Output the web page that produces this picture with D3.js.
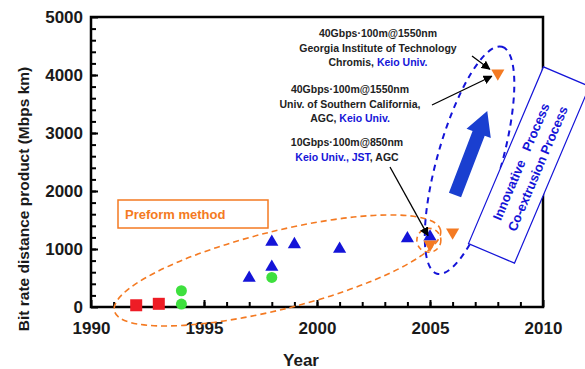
<!DOCTYPE html>
<html>
<head>
<meta charset="utf-8">
<script src="https://cdn.jsdelivr.net/npm/d3@7"></script>
<style>
  body{margin:0;background:#fff;}
  svg{display:block;font-family:"Liberation Sans",Arial,sans-serif;}
</style>
</head>
<body>
<div class="canvas"></div>
<script>
// data
const squareYears=[1992,1993];
const squareValues=[30,55];
const circleYears=[1994,1994,1998];
const circleValues=[50,280,510];
const triYears=[1997,1998,1998,1999,2001,2004,2005];
const triValues=[500,690,1120,1080,1000,1180,1210];
const invYears=[2005,2006,2008];
const invValues=[1080,1290,4030];
const xTicks=[1990,1995,2000,2005,2010];
const yTicks=[0,1000,2000,3000,4000,5000];

const W=585,H=369;
const svg=d3.select('.canvas').append('svg')
  .attr('width',W).attr('height',H);

const x=d3.scaleLinear().domain([1990,2010]).range([91,543]);
const y=d3.scaleLinear().domain([0,5000]).range([307,17]);

const red='#ee1c25',green='#3ee03e',blue='#1414d8',orange='#f47a22';

// frame
svg.append('rect')
  .attr('x',x(1990)).attr('y',y(5000))
  .attr('width',x(2010)-x(1990)).attr('height',y(0)-y(5000))
  .attr('fill','none').attr('stroke','#000').attr('stroke-width',2.5);

// axes (ticks pointing inward)
const fmt=d3.format('d');
const xMinor=svg.append('g').attr('transform',`translate(0,${y(0)})`)
  .call(d3.axisBottom(x).tickValues(d3.range(1991,2010)).tickSize(-5).tickFormat(''));
const xMajor=svg.append('g').attr('transform',`translate(0,${y(0)})`)
  .call(d3.axisBottom(x).tickValues(xTicks).tickSize(-7).tickPadding(15).tickFormat(fmt));
const yMinor=svg.append('g').attr('transform',`translate(${x(1990)},0)`)
  .call(d3.axisLeft(y).tickValues(d3.range(200,5000,200)).tickSize(-5).tickFormat(''));
const yMajor=svg.append('g').attr('transform',`translate(${x(1990)},0)`)
  .call(d3.axisLeft(y).tickValues(yTicks).tickSize(-7).tickPadding(8).tickFormat(fmt));
[xMinor,xMajor,yMinor,yMajor].forEach(g=>{
  g.select('.domain').remove();
  g.selectAll('line').attr('stroke','#000').attr('stroke-width',2);
  g.selectAll('text').attr('font-size',17).attr('font-weight','bold')
    .attr('font-family','"Liberation Sans",Arial,sans-serif').attr('fill','#1a1a1a');
});

// axis titles
svg.append('text').attr('x',301).attr('y',366).attr('text-anchor','middle')
  .attr('font-size',17).attr('font-weight','bold').attr('fill','#1a1a1a').text('Year');
svg.append('text').attr('transform','translate(29,199) rotate(-90)')
  .attr('text-anchor','middle').attr('font-size',15.5).attr('font-weight','bold').attr('fill','#1a1a1a')
  .text('Bit rate distance product (Mbps km)');

// dashed ellipses
svg.append('ellipse')
  .attr('transform',`translate(${x(1998.25)},${y(630)}) rotate(-14)`)
  .attr('rx',168).attr('ry',39)
  .attr('fill','none').attr('stroke',orange).attr('stroke-width',1.6).attr('stroke-dasharray','6,4');
svg.append('circle')
  .attr('cx',x(2004.95)).attr('cy',y(1150)).attr('r',12)
  .attr('fill','none').attr('stroke',orange).attr('stroke-width',1.6).attr('stroke-dasharray','5,4');
svg.append('ellipse')
  .attr('transform',`translate(${x(2006.75)},${y(2530)}) rotate(-74)`)
  .attr('rx',118).attr('ry',32)
  .attr('fill','none').attr('stroke',blue).attr('stroke-width',2).attr('stroke-dasharray','6,5');

// preform method box
svg.append('rect').attr('x',118).attr('y',200).attr('width',150).attr('height',28)
  .attr('fill','#fff').attr('stroke',orange).attr('stroke-width',1.5);
svg.append('text').attr('x',125).attr('y',219).attr('font-size',13).attr('font-weight','bold')
  .attr('fill',orange).text('Preform method');

// markers
const sq=d3.zip(squareYears,squareValues);
svg.selectAll('.sq').data(sq).enter().append('rect')
  .attr('x',d=>x(d[0])-6).attr('y',d=>y(d[1])-6).attr('width',12).attr('height',12).attr('fill',red);
const ci=d3.zip(circleYears,circleValues);
svg.selectAll('.ci').data(ci).enter().append('circle')
  .attr('cx',d=>x(d[0])).attr('cy',d=>y(d[1])).attr('r',5.5).attr('fill',green);
const triUp=d3.symbol().type(d3.symbolTriangle).size(75);
svg.selectAll('.tr').data(d3.zip(triYears,triValues)).enter().append('path')
  .attr('d',triUp).attr('fill',blue)
  .attr('transform',d=>`translate(${x(d[0])},${y(d[1])})`);
svg.selectAll('.iv').data(d3.zip(invYears,invValues)).enter().append('path')
  .attr('d',triUp).attr('fill',orange)
  .attr('transform',d=>`translate(${x(d[0])},${y(d[1])}) rotate(180)`);

// big blue arrow
const ax=455,ay=195,len=90;
svg.append('path')
  .attr('transform',`translate(${ax},${ay}) rotate(21)`)
  .attr('d',`M-6.5,0 L-6.5,${-len+24} L-13,${-len+24} L0,${-len} L13,${-len+24} L6.5,${-len+24} L6.5,0 Z`)
  .attr('fill','#1a3fd0');

// rotated process box (covers right frame)
const box=svg.append('g').attr('transform','translate(529,165) rotate(-67)');
box.append('rect').attr('x',-96).attr('y',-25).attr('width',192).attr('height',50)
  .attr('fill','#fff').attr('stroke',blue).attr('stroke-width',1.2);
box.append('text').attr('x',0).attr('y',-4).attr('text-anchor','middle')
  .attr('font-size',13).attr('font-weight','bold').attr('fill',blue)
  .attr('xml:space','preserve').text('Innovative   Process');
box.append('text').attr('x',0).attr('y',14).attr('text-anchor','middle')
  .attr('font-size',13).attr('font-weight','bold').attr('fill',blue).text('Co-extrusion Process');

// annotation texts
const notes=[
  {cx:378,cy:37,lines:[[['40Gbps·100m@1550nm','#222']],[['Georgia Institute of Technology','#222']],[['Chromis, ','#222'],['Keio Univ.',blue]]]},
  {cx:350,cy:93,lines:[[['40Gbps·100m@1550nm','#222']],[['Univ. of Southern California,','#222']],[['AGC, ','#222'],['Keio Univ.',blue]]]},
  {cx:347,cy:146,lines:[[['10Gbps·100m@850nm','#222']],[['Keio Univ., JST',blue],[', AGC','#222']]]}
];
notes.forEach(n=>{
  n.lines.forEach((ln,i)=>{
    const t=svg.append('text').attr('x',n.cx).attr('y',n.cy+i*14.5).attr('text-anchor','middle')
      .attr('font-size',10.5).attr('font-weight','bold');
    ln.forEach(s=>t.append('tspan').attr('fill',s[1]).text(s[0]));
  });
});

// arrows
const defs=svg.append('defs');
defs.append('marker').attr('id','ah').attr('viewBox','0 0 10 10').attr('refX',9).attr('refY',5)
  .attr('markerWidth',7).attr('markerHeight',7).attr('orient','auto')
  .append('path').attr('d','M0,0 L10,5 L0,10 Z').attr('fill','#000');
[[472,56,x(2008)-8,y(invValues[2])-4],[432,105,x(2008)-6,y(invValues[2])+3],[390,167,x(2005)-2,y(1230)]]
  .forEach(a=>svg.append('line').attr('x1',a[0]).attr('y1',a[1]).attr('x2',a[2]).attr('y2',a[3])
    .attr('stroke','#000').attr('stroke-width',1.3).attr('marker-end','url(#ah)'));
</script>
</body>
</html>
